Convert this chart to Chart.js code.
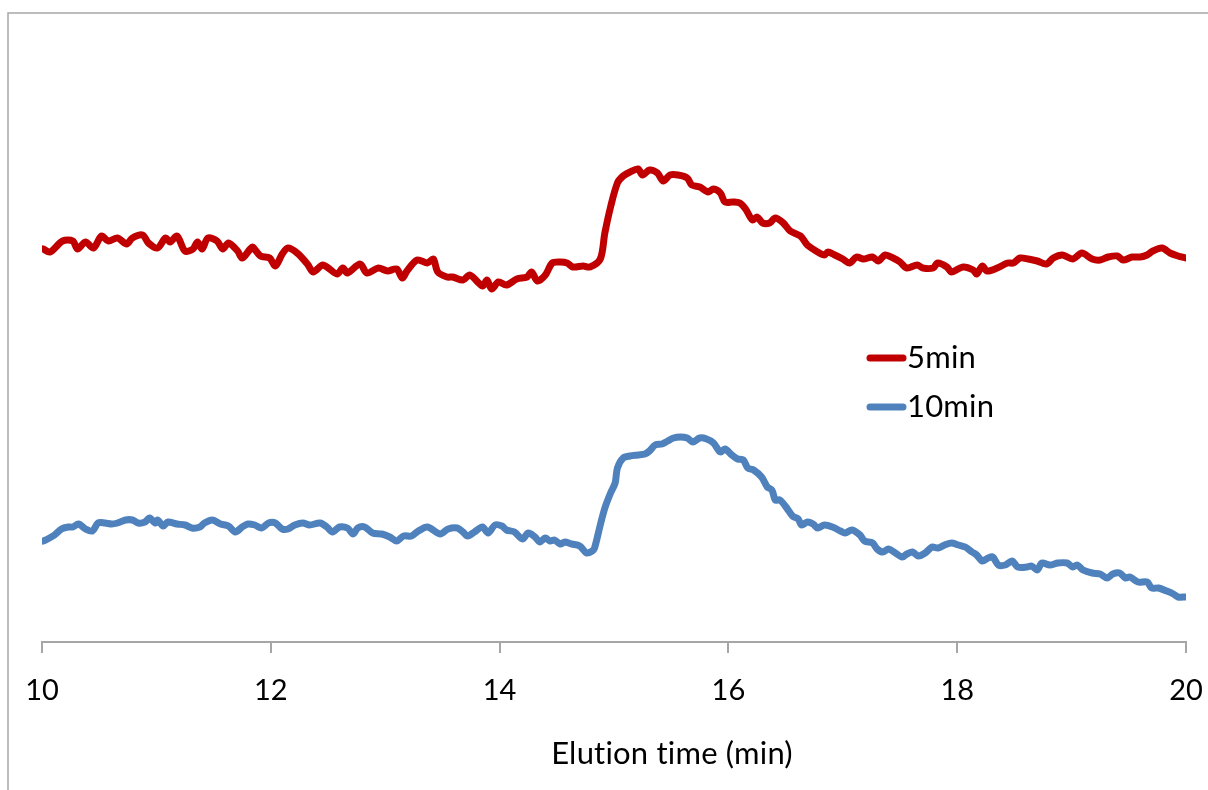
<!DOCTYPE html>
<html>
<head>
<meta charset="utf-8">
<script src="https://cdn.jsdelivr.net/npm/chart.js@4"></script>
<style>
  html, body { margin: 0; padding: 0; background: #fff; }
  #wrap { width: 1208px; height: 790px; position: relative; }
</style>
</head>
<body>
<div id="wrap"><canvas id="chart" width="1208" height="790"></canvas></div>
<script>
// elution time (min) and detector signal (a.u.)
const redTime = [
  10.01,10.07,10.18,10.27,10.31,10.38,10.45,10.52,10.58,10.66,
  10.74,10.79,10.88,10.93,11.01,11.08,11.12,11.18,11.25,11.32,
  11.36,11.40,11.45,11.53,11.58,11.63,11.71,11.75,11.82,11.84,
  11.91,11.99,12.04,12.10,12.15,12.23,12.32,12.37,12.45,12.49,
  12.58,12.63,12.67,12.78,12.84,12.94,13.02,13.10,13.15,13.19,
  13.28,13.37,13.42,13.46,13.54,13.59,13.68,13.74,13.85,13.89,
  13.93,13.99,14.06,14.15,14.24,14.28,14.33,14.40,14.46,14.53,
  14.59,14.64,14.73,14.79,14.88,14.92,14.97,15.03,15.08,15.14,
  15.21,15.25,15.31,15.38,15.43,15.49,15.56,15.64,15.68,15.75,
  15.82,15.87,15.93,15.97,16.04,16.10,16.15,16.21,16.25,16.30,
  16.36,16.41,16.48,16.54,16.63,16.69,16.78,16.84,16.87,16.93,
  17.00,17.06,17.12,17.18,17.26,17.31,17.37,17.44,17.50,17.56,
  17.65,17.70,17.79,17.83,17.91,17.95,18.05,18.14,18.17,18.22,
  18.26,18.35,18.44,18.49,18.55,18.62,18.70,18.78,18.84,18.92,
  19.01,19.09,19.18,19.25,19.32,19.40,19.45,19.53,19.60,19.66,
  19.71,19.79,19.86,19.93,20.00
];
const redSignal = [
  393,390,401,401,393,400,394,406,401,404,
  398,404,407,399,394,404,400,406,391,393,
  400,393,404,401,393,399,391,384,393,395,
  386,384,376,388,394,389,378,370,377,375,
  368,374,369,378,369,374,371,373,364,371,
  382,379,383,370,365,365,362,367,356,362,
  353,360,357,363,365,370,361,367,379,380,
  379,375,376,375,383,409,435,459,466,470,
  473,467,472,469,461,467,467,464,457,455,
  450,453,449,440,440,439,433,422,425,419,
  419,424,419,411,406,397,390,387,390,387,
  383,379,385,383,385,381,387,384,380,374,
  377,374,374,379,375,370,375,372,368,376,
  371,374,379,379,384,383,381,378,384,387,
  383,389,383,382,385,386,382,385,385,387,
  391,394,389,386,384
];

const blueTime = [
  10.01,10.05,10.11,10.17,10.23,10.27,10.32,10.38,10.44,10.49,
  10.55,10.61,10.66,10.73,10.79,10.84,10.90,10.94,10.99,11.01,
  11.06,11.10,11.18,11.25,11.31,11.38,11.42,11.49,11.56,11.63,
  11.69,11.75,11.80,11.86,11.92,11.98,12.04,12.10,12.15,12.21,
  12.28,12.34,12.43,12.49,12.54,12.60,12.67,12.72,12.76,12.82,
  12.89,12.97,13.04,13.10,13.16,13.23,13.29,13.37,13.48,13.55,
  13.63,13.68,13.72,13.78,13.85,13.90,13.96,14.02,14.06,14.13,
  14.20,14.25,14.31,14.35,14.40,14.44,14.48,14.53,14.57,14.63,
  14.70,14.76,14.81,14.83,14.88,14.92,14.97,15.01,15.03,15.08,
  15.14,15.21,15.27,15.31,15.36,15.42,15.47,15.52,15.58,15.64,
  15.69,15.75,15.81,15.87,15.93,15.97,16.03,16.08,16.13,16.17,
  16.22,16.29,16.34,16.38,16.41,16.45,16.51,16.56,16.61,16.64,
  16.69,16.74,16.78,16.84,16.91,16.98,17.02,17.08,17.15,17.19,
  17.26,17.30,17.35,17.40,17.46,17.52,17.56,17.61,17.66,17.72,
  17.78,17.83,17.89,17.95,18.01,18.07,18.13,18.17,18.22,18.27,
  18.31,18.36,18.42,18.48,18.53,18.61,18.65,18.70,18.74,18.81,
  18.88,18.96,19.01,19.05,19.10,19.18,19.25,19.31,19.36,19.42,
  19.47,19.51,19.58,19.66,19.70,19.76,19.83,19.89,19.93,20.00
];
const blueSignal = [
  101,103,107,113,115,115,118,113,111,119,
  119,118,119,122,122,119,120,124,119,122,
  116,120,118,117,114,115,119,122,118,116,
  110,115,118,117,114,119,119,113,113,117,
  119,117,119,115,110,115,114,108,114,115,
  109,108,105,101,106,106,111,115,108,113,
  114,110,106,110,115,109,117,116,112,110,
  103,109,105,100,104,101,102,98,100,98,
  96,89,91,94,117,134,149,159,174,184,
  186,187,188,191,197,198,201,204,205,204,
  200,204,203,199,190,193,187,183,182,174,
  172,165,155,152,142,142,134,126,123,117,
  120,118,114,117,115,111,109,112,107,101,
  99,93,90,93,89,85,88,90,86,89,
  95,94,97,99,97,95,90,87,81,84,
  85,77,77,81,75,75,76,72,79,77,
  79,79,75,77,72,69,68,64,68,69,
  64,65,60,60,54,54,51,48,45,45
];

const seriesNames = ['5min', '10min'];
const seriesColors = ['#C00000', '#4F81BD'];
const xTitle = 'Elution time (min)';
const FONT = 'Lato, "Open Sans", sans-serif';

function pairs(xs, ys) {
  return xs.map((x, i) => ({x: x, y: ys[i]}));
}

// grey frame of the chart object (only the left and top edges are in view)
const framePlugin = {
  id: 'frame',
  beforeDraw(chart) {
    const ctx = chart.ctx;
    ctx.save();
    ctx.strokeStyle = '#a6a6a6';
    ctx.lineWidth = 1.5;
    ctx.beginPath();
    ctx.moveTo(8, 790);
    ctx.lineTo(8, 13);
    ctx.lineTo(1208, 13);
    ctx.stroke();
    ctx.restore();
  }
};

// legend sits inside the plot, and the axis title is off-centre, like the original
const overlayPlugin = {
  id: 'overlay',
  afterDraw(chart) {
    const ctx = chart.ctx;
    ctx.save();
    ctx.font = '31px ' + FONT;
    ctx.letterSpacing = '0.2px'; // keeps "ti" from turning into a ligature
    ctx.textBaseline = 'middle';
    ctx.fillStyle = '#000';
    chart.data.datasets.forEach((ds, i) => {
      const y = 358 + i * 49;
      ctx.strokeStyle = ds.borderColor;
      ctx.lineWidth = 7;
      ctx.lineCap = 'round';
      ctx.beginPath();
      ctx.moveTo(870, y);
      ctx.lineTo(903, y);
      ctx.stroke();
      ctx.textAlign = 'left';
      ctx.fillText(ds.label, 907, y);
    });
    ctx.textAlign = 'center';
    ctx.fillText(xTitle, 672, 754);
    ctx.restore();
  }
};

new Chart(document.getElementById('chart'), {
  type: 'line',
  data: {
    datasets: [
      {label: seriesNames[0], data: pairs(redTime, redSignal)},
      {label: seriesNames[1], data: pairs(blueTime, blueSignal)}
    ].map((d, i) => Object.assign(d, {
      borderColor: seriesColors[i],
      backgroundColor: seriesColors[i],
      borderWidth: 7,
      borderJoinStyle: 'round',
      borderCapStyle: 'round',
      pointRadius: 0,
      tension: 0.3,
      fill: false
    }))
  },
  options: {
    responsive: false,
    animation: false,
    layout: {padding: {left: 42, right: 22, top: 12, bottom: 0}},
    plugins: {legend: {display: false}, tooltip: {enabled: false}},
    scales: {
      x: {
        type: 'linear',
        min: 10,
        max: 20,
        ticks: {stepSize: 2, color: '#000', padding: 20, font: {family: FONT, size: 29}},
        grid: {drawOnChartArea: false, tickLength: 11, color: '#a6a6a6', lineWidth: 2},
        border: {color: '#a6a6a6', width: 2},
        afterFit(scale) {
          scale.height = 148;
          scale.paddingLeft = 0;
          scale.paddingRight = 0;
        }
      },
      y: {display: false, min: 0, max: 630}
    }
  },
  plugins: [framePlugin, overlayPlugin]
});
</script>
</body>
</html>
